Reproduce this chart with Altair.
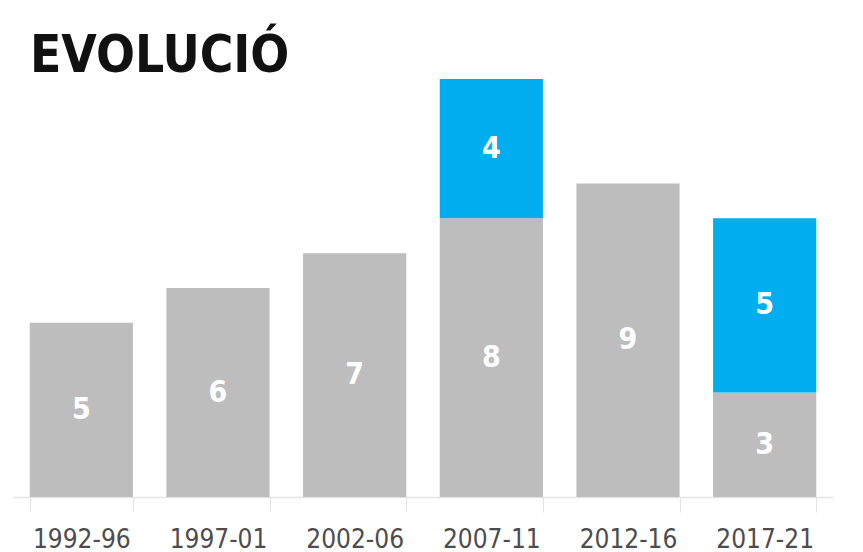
import altair as alt
import pandas as pd

periods = ["1992-96", "1997-01", "2002-06", "2007-11", "2012-16", "2017-21"]
base_vals = [5, 6, 7, 8, 9, 3]
new_vals = [0, 0, 0, 4, 0, 5]

FONT = "'Liberation Sans Narrow', 'DejaVu Sans Condensed', 'DejaVu Sans', sans-serif"

rows = []
for p, b, n in zip(periods, base_vals, new_vals):
    rows.append({"period": p, "segment": "base", "order": 0, "value": b})
    if n > 0:
        rows.append({"period": p, "segment": "new", "order": 1, "value": n})
df = pd.DataFrame(rows)

x = alt.X("period:N", sort=periods, title=None,
          scale=alt.Scale(paddingInner=0.245, paddingOuter=0.1225),
          axis=alt.Axis(labelAngle=0, labelFont=FONT, labelFontSize=26,
                        labelColor="#4d4d4d", domainColor="#e4e4e4", tickColor="#e4e4e4",
                        tickSize=15, tickBand="extent", labelPadding=14, domainWidth=1.5))

base = alt.Chart(df).transform_stack(
    stack="value", groupby=["period"], as_=["y0", "y1"], sort=[alt.SortField("order")]
).transform_calculate(mid="(datum.y0 + datum.y1) / 2")

bars = base.mark_bar().encode(
    x=x,
    y=alt.Y("y0:Q", scale=alt.Scale(domain=[0, 12]), axis=None),
    y2="y1:Q",
    color=alt.Color("segment:N", scale=alt.Scale(domain=["base", "new"], range=["#bdbdbd", "#00adef"]), legend=None),
)

labels = base.mark_text(font=FONT, fontWeight="bold", fontSize=30, color="white",
                        baseline="middle").encode(
    x=x,
    y=alt.Y("mid:Q", scale=alt.Scale(domain=[0, 12]), axis=None),
    text="value:Q",
)

chart = (bars + labels).properties(
    width=820, height=418,
    padding={"left": 5, "top": 23, "right": 5, "bottom": 5},
    title=alt.TitleParams("EVOLUCIÓ", anchor="start", font=FONT, fontWeight="bold",
                          fontSize=51, color="#111111", dx=17, dy=8, offset=4),
    background="white",
).configure_view(stroke=None)

chart.save("out.html", embed_options={"renderer": "svg", "actions": False})
